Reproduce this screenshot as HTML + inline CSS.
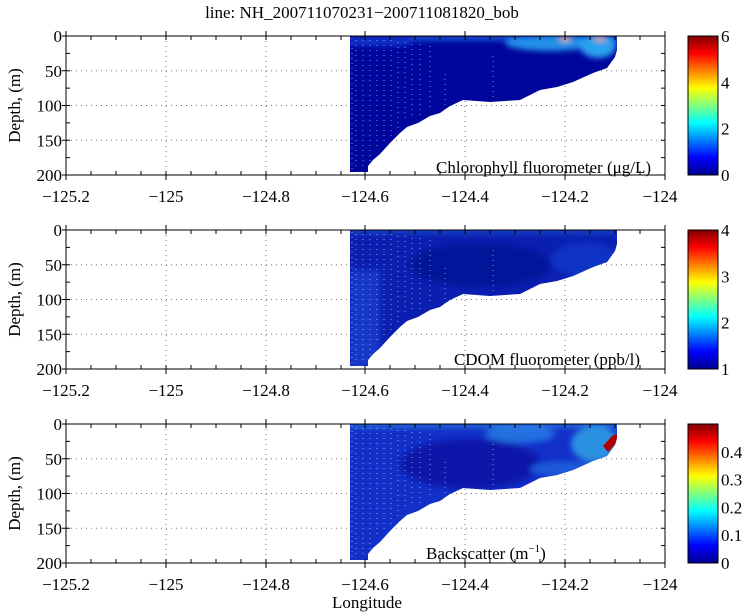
<!DOCTYPE html>
<html><head><meta charset="utf-8"><style>
html,body{margin:0;padding:0;background:#fff;}
svg{display:block;}
</style></head><body>
<svg width="750" height="614" viewBox="0 0 750 614" xmlns="http://www.w3.org/2000/svg" font-family="'Liberation Serif', 'Times New Roman', Times, serif" font-size="17">
<defs>
<linearGradient id="jet" x1="0" y1="1" x2="0" y2="0">
<stop offset="0" stop-color="#00008f"/><stop offset="0.125" stop-color="#0000ff"/>
<stop offset="0.375" stop-color="#00ffff"/><stop offset="0.625" stop-color="#ffff00"/>
<stop offset="0.875" stop-color="#ff0000"/><stop offset="1" stop-color="#800000"/>
</linearGradient>
<clipPath id="shape"><polygon points="350,0 350,136 368,136 368,130 373,124 380,118 390,107 400,97 407,91 418,87 430,80 440,77 450,70 463,64 490,66 520,64 540,54 557,51 573,46 593,37 607,32 615,21 617,14 617,0"/></clipPath>
<path id="ticks" fill="none" stroke="#000" stroke-width="1" d="M66,0v4M91,0v4M116,0v4M141,0v4M166,0v4M191,0v4M216,0v4M241,0v4M266,0v4M291,0v4M316,0v4M341,0v4M365,0v4M390,0v4M415,0v4M440,0v4M465,0v4M490,0v4M515,0v4M540,0v4M565,0v4M590,0v4M615,0v4M640,0v4M665,0v4
M66,139v-4M91,139v-4M116,139v-4M141,139v-4M166,139v-4M191,139v-4M216,139v-4M241,139v-4M266,139v-4M291,139v-4M316,139v-4M341,139v-4M365,139v-4M390,139v-4M415,139v-4M440,139v-4M465,139v-4M490,139v-4M515,139v-4M540,139v-4M565,139v-4M590,139v-4M615,139v-4M640,139v-4M665,139v-4
M66,139v5M166,139v5M266,139v5M365,139v5M465,139v5M565,139v5M665,139v5M66,0v-5M166,0v-5M266,0v-5M365,0v-5M465,0v-5M565,0v-5M665,0v-5
M66,17.4h4M66,34.75h4M66,52.1h4M66,69.5h4M66,86.9h4M66,104.25h4M66,121.6h4
M665,17.4h-4M665,34.75h-4M665,52.1h-4M665,69.5h-4M665,86.9h-4M665,104.25h-4M665,121.6h-4
M66,0h-4M66,34.75h-4M66,69.5h-4M66,104.25h-4M66,139h-4"/>
<path id="grid" fill="none" stroke="#777" stroke-width="1" stroke-dasharray="1,4" d="M166,0v139M266,0v139M365,0v139M465,0v139M565,0v139M66,34.75h599M66,69.5h599M66,104.25h599"/>
<path id="dots" fill="none" stroke="#ffffff" stroke-opacity="0.55" stroke-width="1" stroke-dasharray="1,4" d="M352,2v132M356,4v130M363,4v130M370,4v126M377,4v110M384,4v104M391,4v96M398,6v86M405,6v80M412,8v74M420,8v72M430,10v62M445,74v-40M493,20v42"/>
<g id="ylab" font-family="'Liberation Serif', 'Times New Roman', serif">
<text x="62" y="6" text-anchor="end">0</text>
<text x="62" y="40.75" text-anchor="end">50</text>
<text x="62" y="75.5" text-anchor="end">100</text>
<text x="62" y="110.25" text-anchor="end">150</text>
<text x="62" y="145" text-anchor="end">200</text>
<text transform="translate(20,69.5) rotate(-90)" text-anchor="middle">Depth, (m)</text>
</g>
<g id="xlab" font-family="'Liberation Serif', 'Times New Roman', serif">
<text x="66" y="166" text-anchor="middle">−125.2</text>
<text x="166" y="166" text-anchor="middle">−125</text>
<text x="266" y="166" text-anchor="middle">−124.8</text>
<text x="365" y="166" text-anchor="middle">−124.6</text>
<text x="465" y="166" text-anchor="middle">−124.4</text>
<text x="565" y="166" text-anchor="middle">−124.2</text>
<text x="660" y="166" text-anchor="middle">−124</text>
</g>
<filter id="bl" x="-20%" y="-20%" width="140%" height="140%"><feGaussianBlur stdDeviation="3"/></filter>
</defs>

<text x="362" y="18" text-anchor="middle">line: NH_200711070231−200711081820_bob</text>

<!-- Panel 1 -->
<g transform="translate(0,36)">
<use href="#grid"/>
<g clip-path="url(#shape)">
<rect x="340" y="0" width="290" height="140" fill="#00059c"/>
<g filter="url(#bl)">
<rect x="350" y="0" width="270" height="4" fill="#1a70e8"/>
<rect x="350" y="0" width="60" height="10" fill="#0a30c8"/>
<ellipse cx="550" cy="7" rx="45" ry="8" fill="#2090e8"/>
<ellipse cx="598" cy="10" rx="18" ry="12" fill="#2aa0f0"/>
<ellipse cx="565" cy="3" rx="6" ry="2" fill="#f0c020"/>
<ellipse cx="600" cy="3" rx="6" ry="2" fill="#f0a020"/>
</g>
<use href="#dots"/>
</g>
<path d="M66,0H665V139H66Z" fill="none" stroke="#000"/>
<use href="#ticks"/>
<use href="#ylab"/><use href="#xlab"/>
<text x="651" y="137" text-anchor="end">Chlorophyll fluorometer (μg/L)</text>
<rect x="688" y="0" width="30" height="139" fill="url(#jet)" stroke="#000"/>
<text x="721" y="145">0</text><text x="721" y="98.7">2</text><text x="721" y="52.3">4</text><text x="721" y="6">6</text>
</g>

<!-- Panel 2 -->
<g transform="translate(0,230)">
<use href="#grid"/>
<g clip-path="url(#shape)">
<rect x="340" y="0" width="290" height="140" fill="#0a1fb0"/>
<g filter="url(#bl)">
<rect x="350" y="40" width="30" height="100" fill="#1238c8"/>
<ellipse cx="480" cy="35" rx="70" ry="22" fill="#06129a"/>
<ellipse cx="585" cy="30" rx="35" ry="18" fill="#1030c4"/>
<rect x="350" y="0" width="270" height="3" fill="#2058d8"/>
</g>
<use href="#dots"/>
</g>
<path d="M66,0H665V139H66Z" fill="none" stroke="#000"/>
<use href="#ticks"/>
<use href="#ylab"/><use href="#xlab"/>
<text x="640" y="135" text-anchor="end">CDOM fluorometer (ppb/l)</text>
<rect x="688" y="0" width="30" height="139" fill="url(#jet)" stroke="#000"/>
<text x="721" y="145">1</text><text x="721" y="98.7">2</text><text x="721" y="52.3">3</text><text x="721" y="6">4</text>
</g>

<!-- Panel 3 -->
<g transform="translate(0,424)">
<use href="#grid"/>
<g clip-path="url(#shape)">
<rect x="340" y="0" width="290" height="140" fill="#1230c8"/>
<g filter="url(#bl)">
<ellipse cx="470" cy="40" rx="70" ry="25" fill="#0818a8"/>
<ellipse cx="520" cy="10" rx="35" ry="9" fill="#2070e0"/>
<ellipse cx="595" cy="20" rx="24" ry="18" fill="#2a90e0"/>
<ellipse cx="565" cy="45" rx="35" ry="8" fill="#1a58d8"/>
<rect x="350" y="0" width="270" height="3" fill="#3090e8"/>
</g>
<path d="M603,22 L612,12 L617,10 L617,18 L608,28Z" fill="#b00000"/>
<use href="#dots"/>
</g>
<path d="M66,0H665V139H66Z" fill="none" stroke="#000"/>
<use href="#ticks"/>
<use href="#ylab"/><use href="#xlab"/>
<text x="426" y="135">Backscatter (m<tspan dy="-7" font-size="11">−1</tspan><tspan dy="7">)</tspan></text>
<rect x="688" y="0" width="30" height="139" fill="url(#jet)" stroke="#000"/>
<text x="721" y="145">0</text><text x="721" y="117.2">0.1</text><text x="721" y="89.4">0.2</text><text x="721" y="61.6">0.3</text><text x="721" y="33.8">0.4</text>
</g>

<text x="367" y="608" text-anchor="middle">Longitude</text>
</svg>
</body></html>
